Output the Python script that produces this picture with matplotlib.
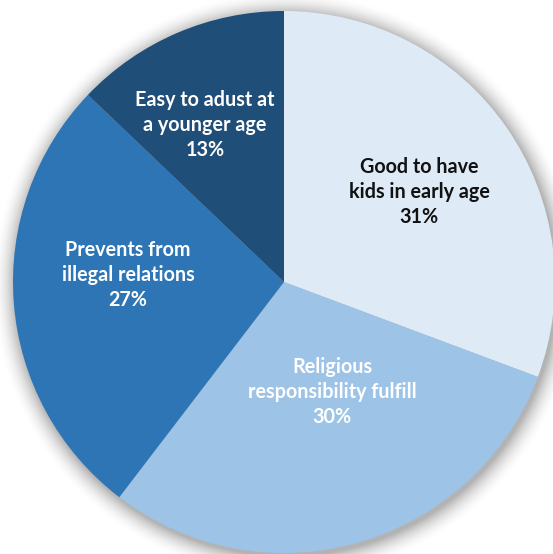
import matplotlib
matplotlib.use("Agg")
import matplotlib.pyplot as plt
import numpy as np

# reasons given for early marriage (%)
reasons = ["Good to have\nkids in early age",
           "Religious\nresponsibility fulfill",
           "Prevents from\nillegal relations",
           "Easy to adust at\na younger age"]
shares = [31, 30, 27, 13]
colors = ["#DEEAF6", "#9DC3E6", "#2E75B6", "#1F4E79"]
text_colors = ["#111111", "white", "white", "white"]

W, H = 553, 554
cx, cy, r = 284, 272, 271

fig = plt.figure(figsize=(W / 100, H / 100), dpi=100)
ax = fig.add_axes([0, 0, 1, 1])

# soft drop shadow behind the pie
xx, yy = np.meshgrid(np.arange(W) + 0.5, np.arange(H) + 0.5)
d = np.hypot(xx - (cx + 2), yy - (cy - 3)) - r
shade = np.clip(1 - d / 24, 0, 1) ** 2 * 0.3
rgba = np.zeros((H, W, 4))
rgba[..., 3] = shade
ax.imshow(rgba, extent=(0, W, 0, H), origin="lower", zorder=0)

wedges, _ = ax.pie(shares, colors=colors, startangle=90, counterclock=False,
                   center=(cx, cy), radius=r, frame=True,
                   wedgeprops=dict(linewidth=0))
for w in wedges:
    w.set_zorder(2)

# label centres in pixels from the top-left corner
label_xy = [(419, 192), (332, 392), (128, 275), (205, 125)]
for name, v, (lx, ly), tc in zip(reasons, shares, label_xy, text_colors):
    ax.text(lx, H - ly, f"{name}\n{v}%", ha="center", va="center", color=tc,
            fontsize=14.2, fontweight="bold", family=["Lato", "DejaVu Sans"],
            linespacing=1.32, zorder=3)

ax.set_xlim(0, W)
ax.set_ylim(0, H)
ax.set_aspect("equal")
ax.axis("off")

fig.savefig("out.png", dpi=100)
